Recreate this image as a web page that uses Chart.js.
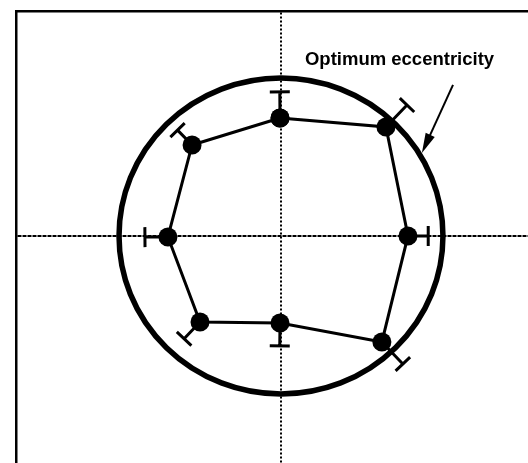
<!DOCTYPE html>
<html>
<head>
<meta charset="utf-8">
<script src="https://cdn.jsdelivr.net/npm/chart.js@4/dist/chart.umd.min.js"></script>
<style>
  html, body { margin: 0; padding: 0; background: #fff; }
  canvas { display: block; }
</style>
</head>
<body>
<canvas id="chart" width="528" height="463"></canvas>
<script>
// measured eccentricity points, clockwise from the top
const xs = [-0.006, 0.648, 0.784, 0.623, -0.006, -0.500, -0.698, -0.549];
const ys = [0.747, 0.690, 0.000, -0.671, -0.551, -0.544, -0.006, 0.576];
// one-sided (outward) error, in radial units
const errs = [0.165, 0.19, 0.125, 0.19, 0.145, 0.145, 0.142, 0.13];

const optimumRadius = 1.0;
const label = "Optimum eccentricity";
const labelAt = [0.148, 1.082];
const arrowFrom = [1.062, 0.956];
const arrowTo = [0.870, 0.525];

const xRange = [-1.636, 1.525];
const yRange = [-1.437, 1.424];

const points = xs.map((x, i) => ({ x: x, y: ys[i] }));
points.push(points[0]); // close the loop

const extras = {
    id: "extras",
    beforeDatasetsDraw(chart) {
        const ctx = chart.ctx;
        const sx = chart.scales.x, sy = chart.scales.y;
        const cx = sx.getPixelForValue(0), cy = sy.getPixelForValue(0);

        // optimum eccentricity circle
        ctx.save();
        ctx.strokeStyle = "#000";
        ctx.lineWidth = 5.5;
        ctx.beginPath();
        ctx.ellipse(cx, cy, sx.getPixelForValue(optimumRadius) - cx,
            cy - sy.getPixelForValue(optimumRadius), 0, 0, Math.PI * 2);
        ctx.stroke();

        // error bars
        ctx.lineWidth = 3;
        xs.forEach((x, i) => {
            const r = Math.hypot(x, ys[i]);
            const k = (r + errs[i]) / r;
            const px = sx.getPixelForValue(x), py = sy.getPixelForValue(ys[i]);
            const ex = sx.getPixelForValue(x * k), ey = sy.getPixelForValue(ys[i] * k);
            const len = Math.hypot(ex - px, ey - py);
            const nx = -(ey - py) / len * 10, ny = (ex - px) / len * 10;
            ctx.beginPath();
            ctx.moveTo(px, py);
            ctx.lineTo(ex, ey);
            ctx.moveTo(ex - nx, ey - ny);
            ctx.lineTo(ex + nx, ey + ny);
            ctx.stroke();
        });
        ctx.restore();
    },
    afterDatasetsDraw(chart) {
        const ctx = chart.ctx;
        const sx = chart.scales.x, sy = chart.scales.y;
        ctx.save();
        ctx.fillStyle = "#000";
        ctx.font = "bold 18.5px 'Liberation Sans', Arial, sans-serif";
        ctx.textBaseline = "alphabetic";
        ctx.fillText(label, sx.getPixelForValue(labelAt[0]), sy.getPixelForValue(labelAt[1]));

        const x1 = sx.getPixelForValue(arrowFrom[0]), y1 = sy.getPixelForValue(arrowFrom[1]);
        const x2 = sx.getPixelForValue(arrowTo[0]), y2 = sy.getPixelForValue(arrowTo[1]);
        const a = Math.atan2(y2 - y1, x2 - x1);
        ctx.strokeStyle = "#000";
        ctx.lineWidth = 2;
        ctx.beginPath();
        ctx.moveTo(x1, y1);
        ctx.lineTo(x2 - 10 * Math.cos(a), y2 - 10 * Math.sin(a));
        ctx.stroke();
        ctx.beginPath();
        ctx.moveTo(x2, y2);
        ctx.lineTo(x2 - 20 * Math.cos(a) + 5 * Math.sin(a), y2 - 20 * Math.sin(a) - 5 * Math.cos(a));
        ctx.lineTo(x2 - 20 * Math.cos(a) - 5 * Math.sin(a), y2 - 20 * Math.sin(a) + 5 * Math.cos(a));
        ctx.closePath();
        ctx.fill();
        ctx.restore();
    },
};

const zeroOnly = (scale) => { scale.ticks = [{ value: 0 }]; };

new Chart(document.getElementById("chart"), {
    type: "scatter",
    data: {
        datasets: [
            {
                data: points,
                showLine: true,
                borderColor: "#000",
                borderWidth: 3,
                pointRadius: 9.5,
                pointBackgroundColor: "#000",
                pointBorderColor: "#000",
                pointBorderWidth: 0,
            },
        ],
    },
    options: {
        responsive: false,
        animation: false,
        layout: { autoPadding: false, padding: { left: 16, top: 11, right: 0, bottom: 0 } },
        plugins: { legend: { display: false }, tooltip: { enabled: false } },
        scales: {
            x: {
                type: "linear",
                position: "top",
                min: xRange[0],
                max: xRange[1],
                afterBuildTicks: zeroOnly,
                ticks: { display: false },
                grid: { color: "#000", lineWidth: 2, drawTicks: false },
                border: { display: true, color: "#000", width: 2.5, dash: [2, 2] },
            },
            y: {
                type: "linear",
                position: "left",
                min: yRange[0],
                max: yRange[1],
                afterBuildTicks: zeroOnly,
                ticks: { display: false },
                grid: { color: "#000", lineWidth: 2, drawTicks: false },
                border: { display: true, color: "#000", width: 2.5, dash: [4, 1] },
            },
        },
    },
    plugins: [extras],
});
</script>
</body>
</html>
